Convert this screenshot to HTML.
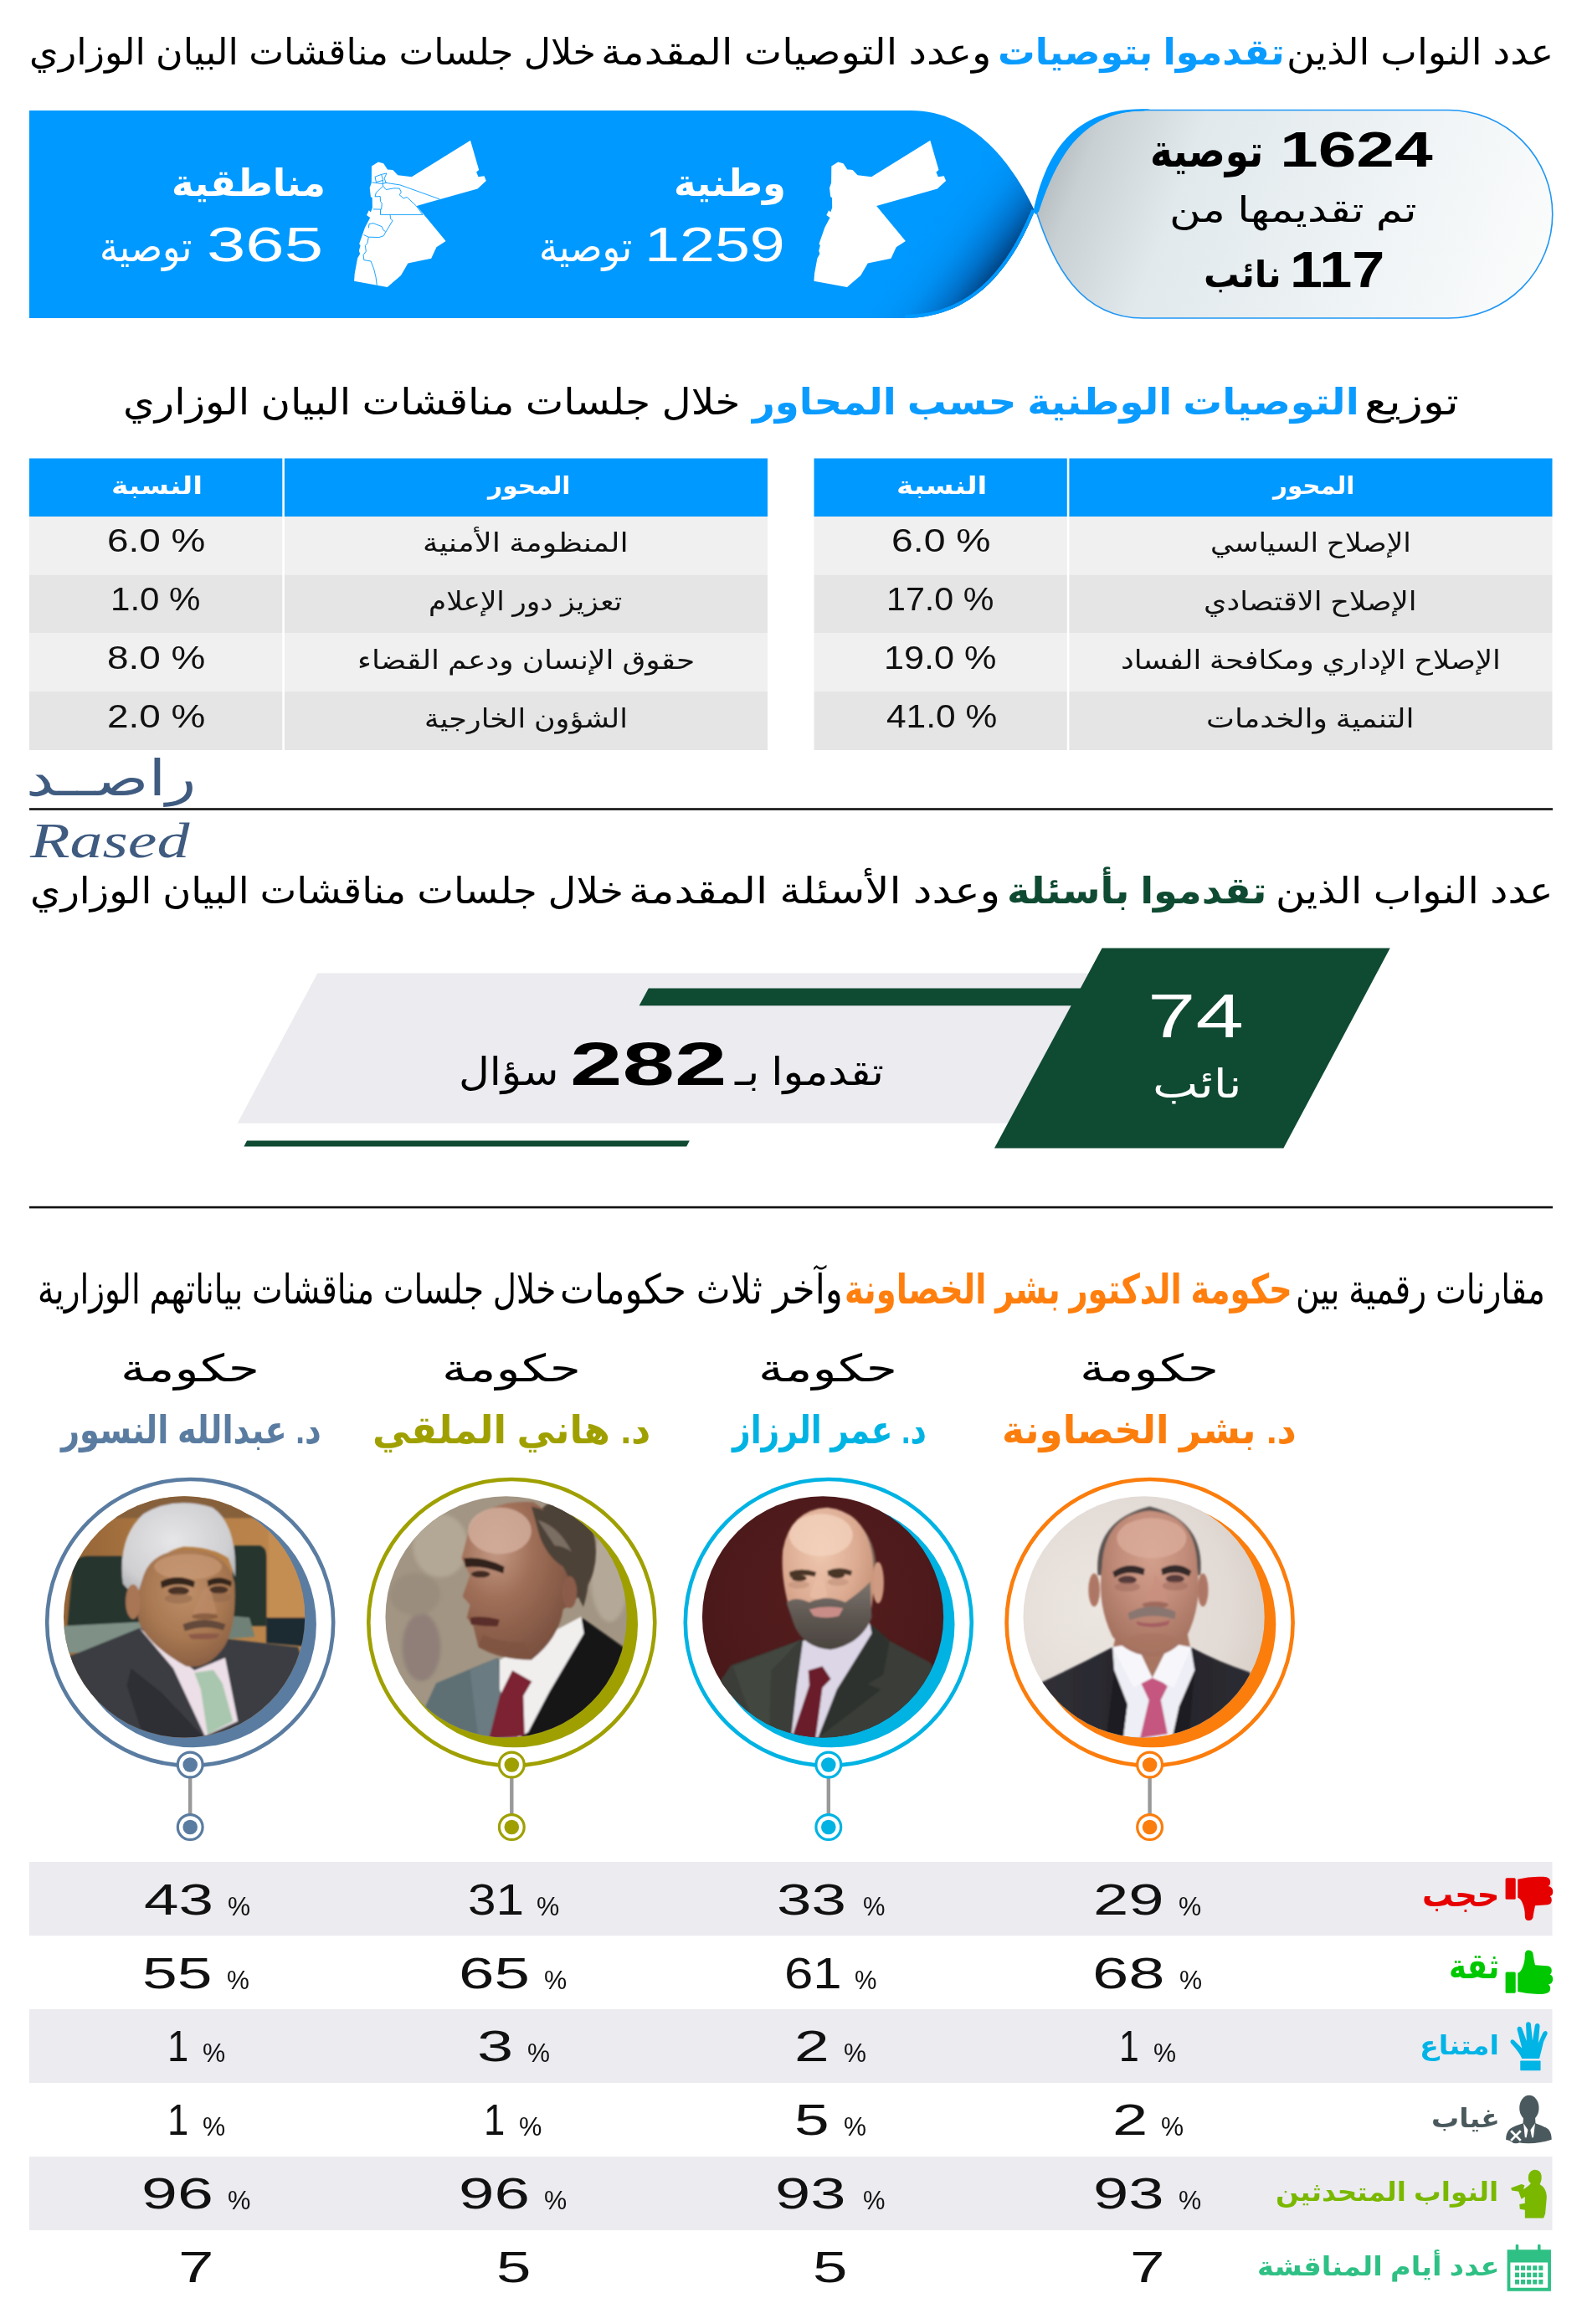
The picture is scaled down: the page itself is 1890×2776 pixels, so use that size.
<!DOCTYPE html>
<html lang="ar">
<head>
<meta charset="utf-8">
<title>راصد - مناقشات البيان الوزاري</title>
<style>
html,body{margin:0;padding:0;background:#fff;}
#pg{position:relative;width:1890px;height:2776px;overflow:hidden;background:#fff;font-family:"Liberation Sans","DejaVu Sans",sans-serif;}
#pg svg.bg{position:absolute;left:0;top:0;}
.t{position:absolute;white-space:nowrap;line-height:1;transform-origin:0 0;margin:0;padding:0;}
.s{font-family:"Liberation Serif","DejaVu Serif",serif;}
</style>
</head>
<body>
<div id="pg">
<svg class="bg" width="1890" height="2776" viewBox="0 0 1890 2776">
<defs>
<linearGradient id="pillg" gradientUnits="userSpaceOnUse" x1="1245" y1="150" x2="1850" y2="380">
<stop offset="0" stop-color="#a9b1b4"/><stop offset="0.1" stop-color="#c8d0d3"/><stop offset="0.28" stop-color="#e1e9ec"/><stop offset="0.6" stop-color="#edf2f4"/><stop offset="1" stop-color="#fcfdfd"/>
</linearGradient>
<linearGradient id="darkg" gradientUnits="userSpaceOnUse" x1="1214" y1="320" x2="1118" y2="247">
<stop offset="0" stop-color="#002b5e" stop-opacity="0.95"/><stop offset="0.14" stop-color="#003a75" stop-opacity="0.88"/><stop offset="0.34" stop-color="#0055a4" stop-opacity="0.58"/><stop offset="0.6" stop-color="#0074d0" stop-opacity="0.25"/><stop offset="0.85" stop-color="#008ae8" stop-opacity="0.06"/><stop offset="1" stop-color="#0090f0" stop-opacity="0"/>
</linearGradient>
<clipPath id="banclip"><path d="M35,132 H1088 C1165,132 1212,200 1236,252 C1214,306 1172,380 1080,380 H35 Z"/></clipPath>
<filter id="b1" x="-10%" y="-10%" width="120%" height="120%"><feGaussianBlur stdDeviation="1.6"/></filter>
<filter id="b3" x="-20%" y="-20%" width="140%" height="140%"><feGaussianBlur stdDeviation="4"/></filter>
<filter id="b8" x="-30%" y="-30%" width="160%" height="160%"><feGaussianBlur stdDeviation="9"/></filter>
</defs>
<path d="M35,132 H1088 C1165,132 1212,200 1236,252 C1214,306 1172,380 1080,380 H35 Z" fill="#0099ff"/>
<g clip-path="url(#banclip)"><rect x="1000" y="132" width="260" height="250" fill="url(#darkg)"/><path d="M1237.5,252 C1215.5,306 1173.5,381.5 1081,381.5" fill="none" stroke="#0099ff" stroke-width="11"/></g>
<path d="M1366,131.5 H1730.5 A124.25,124.25 0 0 1 1730.5,380 H1366 C1290,380 1258,315 1238,252.5 C1258,190 1290,131.5 1366,131.5 Z" fill="url(#pillg)" stroke="#1f96f5" stroke-width="1.6"/>
<path d="M1234.5,252.5 C1249,186 1280,126 1374,130.6 L1366,132.5 C1292,132.5 1261,191 1241,253 L1237,256 Z" fill="#0099ff"/>
<path d="M1111.3,167.8 L1121.5,202.9 L1118.4,205.4 L1120.8,211.2 L1127.8,210.2 L1130.1,216.1 L1119.8,225.4 L1047.1,246.0 L1081.9,288.0 L1070.7,295.3 L1064.5,308.8 L1036.7,314.4 L1028.3,329.0 L1012.0,342.9 L972.4,335.7 L973.0,326.9 L976.4,308.6 L979.4,303.3 L978.2,299.5 L979.9,293.3 L978.5,291.2 L985.2,272.1 L991.5,259.9 L987.3,257.1 L990.1,251.3 L992.2,253.6 L994.2,248.1 L994.0,236.2 L992.2,235.1 L991.0,224.4 L993.1,218.2 L993.3,198.4 L1001.2,193.5 L1007.5,195.2 L1012.3,202.6 L1018.6,202.9 L1024.6,209.2 L1041.1,211.2 Z" fill="#fff"/>
<path d="M562.0,167.8 L572.2,202.9 L569.1,205.4 L571.5,211.2 L578.5,210.2 L580.8,216.1 L570.5,225.4 L497.8,246.0 L532.6,288.0 L521.4,295.3 L515.2,308.8 L487.4,314.4 L479.0,329.0 L462.7,342.9 L423.1,335.7 L423.7,326.9 L427.1,308.6 L430.1,303.3 L428.9,299.5 L430.6,293.3 L429.2,291.2 L435.9,272.1 L442.2,259.9 L438.0,257.1 L440.8,251.3 L442.9,253.6 L444.9,248.1 L444.7,236.2 L442.9,235.1 L441.7,224.4 L443.8,218.2 L444.0,198.4 L451.9,193.5 L458.2,195.2 L463.0,202.6 L469.3,202.9 L475.3,209.2 L491.8,211.2 Z" fill="#fff"/>
<path d="M459.8,218.2 L477.9,220.9 L525.2,237.9" fill="none" stroke="#0099ff" stroke-width="0.9" stroke-linejoin="round"/>
<path d="M448.0,211.2 L455.6,208.4 L457.7,215.4 L449.4,217.5 L448.0,211.2" fill="none" stroke="#0099ff" stroke-width="0.9" stroke-linejoin="round"/>
<path d="M455.6,208.4 L461.9,207.0 L459.1,213.3 L461.2,218.2 L457.7,219.5 L457.0,215.4" fill="none" stroke="#0099ff" stroke-width="0.9" stroke-linejoin="round"/>
<path d="M444.5,217.9 L457.0,219.5 L457.7,222.3 L449.4,230.0 L448.0,234.8 L454.2,234.6 L454.5,240.4 L456.3,243.2 L455.6,250.1 L445.9,249.9" fill="none" stroke="#0099ff" stroke-width="0.9" stroke-linejoin="round"/>
<path d="M457.7,222.3 L461.2,226.5 L470.9,224.8 L477.2,225.1 L479.3,229.3 L477.2,232.8 L482.1,236.9 L486.2,235.5 L497.4,246.0 L505.0,256.4" fill="none" stroke="#0099ff" stroke-width="0.9" stroke-linejoin="round"/>
<path d="M454.5,250.1 L454.5,256.4 L505.0,256.4" fill="none" stroke="#0099ff" stroke-width="0.9" stroke-linejoin="round"/>
<path d="M466.1,256.4 L466.5,261.3 L469.1,263.4 L458.1,281.8 L452.9,283.5 L440.3,283.2 L434.5,280.5" fill="none" stroke="#0099ff" stroke-width="0.9" stroke-linejoin="round"/>
<path d="M440.3,272.4 L441.0,267.5 L445.9,266.6 L456.3,270.7 L457.7,274.5 L460.5,276.6" fill="none" stroke="#0099ff" stroke-width="0.9" stroke-linejoin="round"/>
<path d="M440.3,283.2 L438.9,290.5 L436.4,293.3 L437.3,300.2 L434.1,304.4 L434.8,310.6 L443.1,312.0 L446.6,321.1 L449.0,330.8 L450.3,340.8" fill="none" stroke="#0099ff" stroke-width="0.9" stroke-linejoin="round"/>
<rect x="35" y="547.5" width="882" height="69.5" fill="#0099ff"/>
<rect x="35" y="617" width="882" height="69.5" fill="#f0f0f0"/>
<rect x="35" y="686.5" width="882" height="69.5" fill="#e5e5e5"/>
<rect x="35" y="756" width="882" height="70" fill="#f0f0f0"/>
<rect x="35" y="826" width="882" height="70" fill="#e5e5e5"/>
<rect x="337.3" y="547" width="2.6" height="349.5" fill="#fff"/>
<rect x="972.5" y="547.5" width="882" height="69.5" fill="#0099ff"/>
<rect x="972.5" y="617" width="882" height="69.5" fill="#f0f0f0"/>
<rect x="972.5" y="686.5" width="882" height="69.5" fill="#e5e5e5"/>
<rect x="972.5" y="756" width="882" height="70" fill="#f0f0f0"/>
<rect x="972.5" y="826" width="882" height="70" fill="#e5e5e5"/>
<rect x="1274.8" y="547" width="2.6" height="349.5" fill="#fff"/>
<rect x="35" y="965.2" width="1820" height="2.6" fill="#111"/>
<rect x="35" y="1440.8" width="1820" height="2.6" fill="#111"/>
<path d="M379.3,1162.5 L1400,1162.5 L1400,1341.7 L283.7,1341.7 Z" fill="#ebebf0"/>
<path d="M774.8,1180.4 L1350,1180.4 L1350,1201.3 L763.6,1201.3 Z" fill="#0f4a32"/>
<path d="M1316.6,1132.6 L1660.7,1132.6 L1533.4,1371.6 L1188,1371.6 Z" fill="#0f4a32"/>
<path d="M295,1362.6 L823.8,1362.6 L820.2,1369.4 L291.4,1369.4 Z" fill="#0f4a32"/>
<rect x="35" y="2224" width="1819.5" height="88" fill="#ebebf0"/>
<rect x="35" y="2400" width="1819.5" height="88" fill="#ebebf0"/>
<rect x="35" y="2576" width="1819.5" height="88" fill="#ebebf0"/>
<circle cx="1373.6" cy="1938" r="171" fill="none" stroke="#fb7d0c" stroke-width="4.6"/>
<circle cx="1377.3" cy="1940.2" r="147" fill="#fb7d0c"/>
<line x1="1373.6" y1="2122" x2="1373.6" y2="2168" stroke="#999" stroke-width="4.4"/>
<circle cx="1373.6" cy="2108" r="14.9" fill="#fff" stroke="#fb7d0c" stroke-width="3.2"/>
<circle cx="1373.6" cy="2108" r="8.8" fill="#fb7d0c"/>
<circle cx="1373.6" cy="2182.5" r="14.9" fill="#fff" stroke="#fb7d0c" stroke-width="3.2"/>
<circle cx="1373.6" cy="2182.5" r="8.8" fill="#fb7d0c"/>
<circle cx="989.8" cy="1938" r="171" fill="none" stroke="#00b3e3" stroke-width="4.6"/>
<circle cx="993.5" cy="1940.2" r="147" fill="#00b3e3"/>
<line x1="989.8" y1="2122" x2="989.8" y2="2168" stroke="#999" stroke-width="4.4"/>
<circle cx="989.8" cy="2108" r="14.9" fill="#fff" stroke="#00b3e3" stroke-width="3.2"/>
<circle cx="989.8" cy="2108" r="8.8" fill="#00b3e3"/>
<circle cx="989.8" cy="2182.5" r="14.9" fill="#fff" stroke="#00b3e3" stroke-width="3.2"/>
<circle cx="989.8" cy="2182.5" r="8.8" fill="#00b3e3"/>
<circle cx="611.3" cy="1938" r="171" fill="none" stroke="#9fa000" stroke-width="4.6"/>
<circle cx="615.0" cy="1940.2" r="147" fill="#9fa000"/>
<line x1="611.3" y1="2122" x2="611.3" y2="2168" stroke="#999" stroke-width="4.4"/>
<circle cx="611.3" cy="2108" r="14.9" fill="#fff" stroke="#9fa000" stroke-width="3.2"/>
<circle cx="611.3" cy="2108" r="8.8" fill="#9fa000"/>
<circle cx="611.3" cy="2182.5" r="14.9" fill="#fff" stroke="#9fa000" stroke-width="3.2"/>
<circle cx="611.3" cy="2182.5" r="8.8" fill="#9fa000"/>
<circle cx="227.2" cy="1938" r="171" fill="none" stroke="#5a7ca1" stroke-width="4.6"/>
<circle cx="230.89999999999998" cy="1940.2" r="147" fill="#5a7ca1"/>
<line x1="227.2" y1="2122" x2="227.2" y2="2168" stroke="#999" stroke-width="4.4"/>
<circle cx="227.2" cy="2108" r="14.9" fill="#fff" stroke="#5a7ca1" stroke-width="3.2"/>
<circle cx="227.2" cy="2108" r="8.8" fill="#5a7ca1"/>
<circle cx="227.2" cy="2182.5" r="14.9" fill="#fff" stroke="#5a7ca1" stroke-width="3.2"/>
<circle cx="227.2" cy="2182.5" r="8.8" fill="#5a7ca1"/>
<defs>
<radialGradient id="kbg" cx=".32" cy=".45" r=".8"><stop offset="0" stop-color="#ece6e1"/><stop offset=".6" stop-color="#e2dad4"/><stop offset="1" stop-color="#cfc5be"/></radialGradient>
<radialGradient id="kface" cx=".52" cy=".32" r=".75"><stop offset="0" stop-color="#d3a08d"/><stop offset=".45" stop-color="#c28d7a"/><stop offset="1" stop-color="#9e6b5a"/></radialGradient>
<linearGradient id="ksuit" x1="0" y1="0" x2="1" y2="0"><stop offset="0" stop-color="#34333a"/><stop offset=".5" stop-color="#25242a"/><stop offset="1" stop-color="#2e2d33"/></linearGradient>
<radialGradient id="rbg" cx=".5" cy=".4" r=".8"><stop offset="0" stop-color="#551d1e"/><stop offset="1" stop-color="#451617"/></radialGradient>
<radialGradient id="rface" cx=".42" cy=".3" r=".8"><stop offset="0" stop-color="#efc8b0"/><stop offset=".5" stop-color="#dcab92"/><stop offset="1" stop-color="#b98468"/></radialGradient>
<linearGradient id="rbeard" x1="0" y1="0" x2="0" y2="1"><stop offset="0" stop-color="#7d756f"/><stop offset=".5" stop-color="#5f5852"/><stop offset="1" stop-color="#4a443f"/></linearGradient>
<radialGradient id="mface" cx=".3" cy=".3" r=".9"><stop offset="0" stop-color="#c49a85"/><stop offset=".35" stop-color="#a06f58"/><stop offset="1" stop-color="#6c4636"/></radialGradient>
<radialGradient id="nface" cx=".5" cy=".35" r=".8"><stop offset="0" stop-color="#be8f69"/><stop offset=".5" stop-color="#a87852"/><stop offset="1" stop-color="#7a523a"/></radialGradient>
<radialGradient id="nhair" cx=".45" cy=".4" r=".7"><stop offset="0" stop-color="#e6e6e8"/><stop offset=".7" stop-color="#cfcfd2"/><stop offset="1" stop-color="#a9a9ad"/></radialGradient>
<linearGradient id="nwood" x1="0" y1="0" x2="1" y2="0"><stop offset="0" stop-color="#8f6034"/><stop offset=".5" stop-color="#b27c45"/><stop offset="1" stop-color="#c08a50"/></linearGradient>
</defs>
<clipPath id="pc4"><circle cx="738" cy="757" r="570"/></clipPath>
<g transform="translate(1180,1740) scale(0.25284)"><g clip-path="url(#pc4)">
<rect x="100" y="150" width="1300" height="1250" fill="url(#kbg)"/>
<g filter="url(#b3)">
<path d="M225,1080 Q420,990 590,900 L960,900 Q1100,975 1238,1018 L1350,1420 L150,1420 Z" fill="url(#ksuit)"/>
<path d="M590,900 L960,900 L978,1010 L905,1180 L872,1330 L640,1330 L660,1170 L598,1010 Z" fill="#eeeef6"/>
<path d="M598,1010 L660,1170 L640,1330 L560,1330 Z" fill="#1c1b20"/><path d="M978,1010 L905,1180 L872,1330 L950,1330 Z" fill="#1c1b20"/>
<path d="M722,1065 L790,1035 L850,1085 L818,1150 L850,1310 L720,1330 L762,1150 Z" fill="#c4577f"/>
<path d="M612,820 L940,820 L958,905 L778,1042 L592,905 Z" fill="#a77461"/>
<path d="M590,900 L700,880 L778,1045 L690,1090 Z" fill="#f7f7fb"/><path d="M960,900 L860,880 L778,1045 L880,1090 Z" fill="#f7f7fb"/>
<path d="M520,560 Q500,300 765,235 Q1030,300 1005,560 Z" fill="#5b5553"/>
<ellipse cx="503" cy="630" rx="27" ry="78" fill="#ae7765"/><ellipse cx="1017" cy="630" rx="25" ry="78" fill="#ae7765"/>
<path d="M765,255 Q985,270 990,520 Q1015,700 940,850 Q860,945 770,940 Q670,940 590,850 Q515,700 540,520 Q550,275 765,255 Z" fill="url(#kface)"/>
<ellipse cx="775" cy="385" rx="165" ry="95" fill="#dcae9c" opacity=".75"/>
<path d="M590,545 Q660,492 742,530 L737,560 Q660,532 600,572 Z" fill="#35292a"/>
<path d="M820,530 Q900,490 962,540 L952,566 Q890,532 825,560 Z" fill="#35292a"/>
<ellipse cx="660" cy="582" rx="44" ry="19" fill="#4a3233" opacity=".9"/><ellipse cx="885" cy="577" rx="44" ry="19" fill="#4a3233" opacity=".9"/>
<ellipse cx="660" cy="615" rx="60" ry="22" fill="#a06c5e" opacity=".55"/><ellipse cx="885" cy="610" rx="60" ry="22" fill="#a06c5e" opacity=".55"/>
<path d="M735,690 Q790,720 850,688 L840,640 Q800,560 790,560 Q770,640 735,690 Z" fill="#c9907f" opacity=".8"/>
<ellipse cx="792" cy="700" rx="62" ry="16" fill="#8f5b50" opacity=".7"/>
<path d="M662,740 Q775,678 888,734 L884,768 Q775,735 672,772 Z" fill="#8a7670"/>
<path d="M700,778 Q780,798 862,772 L850,796 Q780,815 710,796 Z" fill="#a45e62"/>
<ellipse cx="775" cy="870" rx="110" ry="35" fill="#a8735f" opacity=".6"/>
</g></g></g>
<clipPath id="pc3"><circle cx="724" cy="757" r="570"/></clipPath>
<g transform="translate(800,1740) scale(0.25284)"><g clip-path="url(#pc3)">
<rect x="100" y="150" width="1300" height="1250" fill="url(#rbg)"/>
<g filter="url(#b3)">
<path d="M225,1080 L290,985 L620,865 L950,790 L1040,870 L1235,975 L1350,1420 L150,1420 Z" fill="#3a3e37"/>
<path d="M620,865 L480,1010 L470,1330 L420,1330 L300,990 Z" fill="#42463f"/>
<path d="M950,790 L1040,870 L1010,1030 L935,1075 L1000,1100 L700,1330 L790,1100 Z" fill="#2f332d"/>
<path d="M630,870 L945,785 L955,835 L790,1100 L700,1330 L575,1320 L600,1090 Z" fill="#dcd6e6"/>
<path d="M655,1010 L722,990 L762,1050 L722,1092 L690,1330 L580,1320 L660,1080 Z" fill="#6b1d2b"/>
<path d="M905,330 Q990,420 975,600 L900,600 Z" fill="#75645a"/>
<ellipse cx="985" cy="595" rx="27" ry="98" fill="#cf9a82"/>
<path d="M745,240 Q930,260 960,480 Q975,650 940,780 Q860,900 760,905 Q650,900 590,790 Q520,600 535,440 Q570,250 745,240 Z" fill="url(#rface)"/>
<ellipse cx="715" cy="370" rx="150" ry="100" fill="#f3d2bd" opacity=".8"/>
<path d="M552,690 Q590,655 660,688 Q740,648 830,688 Q900,640 948,590 L955,760 Q905,885 760,912 Q635,902 590,800 Z" fill="url(#rbeard)"/>
<path d="M660,722 Q740,700 820,716 L800,752 Q740,768 680,752 Z" fill="#c98d88"/>
<path d="M565,545 Q620,520 692,545 L687,567 Q620,550 570,572 Z" fill="#4a3528"/>
<path d="M745,540 Q800,515 862,540 L857,562 Q800,545 750,564 Z" fill="#4a3528"/>
<ellipse cx="612" cy="574" rx="35" ry="15" fill="#4a3528"/><ellipse cx="792" cy="560" rx="35" ry="15" fill="#4a3528"/>
<ellipse cx="610" cy="605" rx="50" ry="18" fill="#c08f78" opacity=".6"/><ellipse cx="795" cy="592" rx="50" ry="18" fill="#c08f78" opacity=".6"/>
<path d="M660,660 Q700,690 745,655 L720,560 Q690,560 660,660 Z" fill="#e9bda5" opacity=".8"/>
</g></g></g>
<clipPath id="pc2"><circle cx="730" cy="757" r="570"/></clipPath>
<g transform="translate(420,1740) scale(0.25284)"><g clip-path="url(#pc2)">
<rect x="100" y="150" width="1300" height="1250" fill="#a29583"/>
<g filter="url(#b8)"><ellipse cx="330" cy="900" rx="90" ry="160" fill="#8f7f78"/><ellipse cx="1220" cy="560" rx="90" ry="220" fill="#b4a898"/><ellipse cx="420" cy="420" rx="130" ry="150" fill="#b3a795"/><ellipse cx="300" cy="650" rx="120" ry="100" fill="#9a8d7d"/></g>
<g filter="url(#b3)">
<path d="M335,1210 L400,1070 L690,950 L730,1000 L720,1340 L540,1340 Z" fill="#5f6f75"/>
<path d="M560,1010 L690,950 L720,1340 L600,1340 Z" fill="#6b7b82"/>
<path d="M1088,760 L1285,900 L1310,1150 L860,1340 L800,1340 L900,1100 Z" fill="#141414"/>
<path d="M700,960 L1085,755 L1098,835 L935,1110 L835,1300 L790,1330 L700,1100 Z" fill="#f1eeee"/>
<path d="M760,1010 L852,1062 L812,1130 L818,1320 L650,1330 L700,1130 Z" fill="#7b2233"/>
<ellipse cx="990" cy="450" rx="165" ry="245" fill="#4e4339"/>
<path d="M560,330 Q650,200 860,215 Q1000,300 1010,520 L1060,560 Q1075,640 1040,700 L1000,720 Q980,860 850,960 Q700,960 600,900 L575,800 L545,760 L560,700 L525,660 L560,560 L520,480 Z" fill="url(#mface)"/>
<ellipse cx="700" cy="350" rx="150" ry="110" fill="#d2ad9b" opacity=".85"/>
<path d="M850,235 Q1010,270 1095,420 Q1145,560 1095,710 Q1040,600 1000,520 Q930,480 890,380 Z" fill="#4e4339"/>
<path d="M880,300 Q980,330 1040,450 Q1000,420 960,420 Q920,360 880,300 Z" fill="#7a6d62"/>
<ellipse cx="1030" cy="640" rx="35" ry="75" fill="#8b5c48"/>
<path d="M530,480 Q620,468 722,520 L717,552 Q620,512 540,522 Z" fill="#33231c"/>
<ellipse cx="610" cy="555" rx="45" ry="16" fill="#3f2a22"/>
<path d="M560,760 Q620,750 700,770 L690,802 Q620,802 565,792 Z" fill="#5a2e2a"/>
<path d="M600,900 Q720,930 850,960 L820,880 Q700,880 620,840 Z" fill="#7d5342" opacity=".7"/>
</g></g></g>
<clipPath id="pc1"><circle cx="752" cy="757" r="570"/></clipPath>
<g transform="translate(30,1740) scale(0.25284)"><g clip-path="url(#pc1)">
<rect x="100" y="150" width="1300" height="1250" fill="url(#nwood)"/>
<g filter="url(#b3)">
<rect x="100" y="150" width="1300" height="140" fill="#86603a"/>
<rect x="1150" y="300" width="220" height="480" fill="#c48e52"/>
<path d="M225,520 Q240,470 300,470 L540,470 L540,800 L200,800 Z" fill="#26342d"/>
<path d="M980,420 L1110,420 Q1140,430 1140,470 L1140,800 L980,800 Z" fill="#26342d"/>
<path d="M180,800 L560,780 L560,900 L190,930 Z" fill="#7f9187"/>
<path d="M960,750 L1060,760 L1085,850 L960,860 Z" fill="#6f8177"/>
<path d="M1140,760 L1370,760 L1370,900 L1140,880 Z" fill="#1f2a30"/>
<path d="M205,945 L540,810 L950,860 L1290,900 L1350,1100 L1010,1340 L380,1340 Z" fill="#3b3c42"/>
<path d="M500,1000 L640,1110 L850,1330 L560,1330 L480,1080 Z" fill="#2e2f35"/>
<path d="M540,810 L800,1010 L945,950 L1005,1250 L850,1320 L700,1000 Z" fill="#ecdfe7"/>
<path d="M800,1020 L890,1008 L932,1070 L982,1250 L862,1312 L830,1100 Z" fill="#a9c7ae"/>
<path d="M462,600 Q435,380 560,270 Q700,185 885,240 Q1005,320 992,570 L960,480 Q880,425 750,425 Q640,450 600,530 L578,665 Q515,665 462,600 Z" fill="url(#nhair)"/>
<path d="M560,560 Q600,440 780,440 Q960,450 990,600 Q1000,800 940,900 Q860,1010 760,990 Q600,900 545,800 Q520,740 535,640 Z" fill="url(#nface)"/>
<ellipse cx="770" cy="520" rx="160" ry="60" fill="#c99a76" opacity=".7"/>
<ellipse cx="510" cy="685" rx="35" ry="82" fill="#a87555"/>
<path d="M640,590 Q720,550 802,590 L797,618 Q720,586 645,622 Z" fill="#36261f"/>
<path d="M860,585 Q920,555 977,590 L972,615 Q920,586 865,614 Z" fill="#36261f"/>
<ellipse cx="725" cy="634" rx="50" ry="20" fill="#4a3026"/><ellipse cx="915" cy="629" rx="44" ry="18" fill="#4a3026"/>
<ellipse cx="725" cy="670" rx="65" ry="24" fill="#946a4c" opacity=".6"/><ellipse cx="915" cy="665" rx="58" ry="22" fill="#946a4c" opacity=".6"/>
<path d="M790,740 Q850,775 905,735 L880,640 Q850,600 830,640 Z" fill="#bb8a66" opacity=".85"/>
<ellipse cx="850" cy="755" rx="62" ry="15" fill="#7a5138" opacity=".7"/>
<path d="M745,792 Q850,750 947,792 L937,820 Q850,792 755,824 Z" fill="#63493b"/>
<path d="M770,840 Q850,830 920,838 L905,858 Q850,866 785,860 Z" fill="#8d5a4a"/>
</g></g></g>
<g transform="translate(1480,2210) scale(0.25284)"><rect x="1260" y="132" width="48" height="100" rx="6" fill="#e60000"/>
<path d="M1318,137 Q1380,122 1440,126 Q1472,128 1472,150 Q1472,166 1462,170 Q1484,174 1484,196 Q1484,214 1470,218 Q1480,224 1478,240 Q1476,256 1458,258 L1400,262 Q1392,300 1390,318 Q1384,334 1366,332 Q1352,330 1352,310 Q1352,275 1338,245 Q1330,228 1318,224 Z" fill="#e60000"/></g>
<g transform="translate(1480,2210) scale(0.25284)"><rect x="1260" y="575" width="48" height="100" rx="6" fill="#00c800"/>
<path d="M1318,668 Q1380,683 1440,679 Q1472,677 1472,655 Q1472,639 1462,635 Q1484,631 1484,609 Q1484,591 1470,587 Q1480,581 1478,565 Q1476,549 1458,547 L1400,543 Q1392,505 1390,487 Q1384,471 1366,473 Q1352,475 1352,495 Q1352,530 1338,560 Q1330,577 1318,581 Z" fill="#00c800"/></g>
<g transform="translate(1480,2210) scale(0.25284)"><rect x="1330" y="995" width="96" height="46" rx="3" fill="#00b4e6"/>
<path d="M1338,985 L1420,985 Q1432,940 1440,905 L1458,868 Q1460,856 1450,854 Q1441,853 1436,864 L1415,912 L1422,832 Q1422,820 1411,819 Q1401,819 1399,830 L1388,900 L1380,824 Q1379,812 1368,812 Q1357,812 1357,824 L1360,902 L1338,842 Q1333,831 1323,834 Q1313,838 1316,850 L1338,935 L1300,898 Q1291,892 1285,899 Q1280,906 1287,914 Q1325,955 1338,985 Z" fill="#00b4e6"/></g>
<g transform="translate(1480,2480) scale(0.25284)"><ellipse cx="1372" cy="150" rx="46" ry="60" fill="#4a595d"/>
<path d="M1345,190 L1400,190 L1402,222 Q1440,235 1462,250 Q1478,268 1478,300 Q1370,335 1262,300 Q1262,268 1280,250 Q1300,235 1343,222 Z" fill="#4a595d"/>
<path d="M1345,222 L1372,262 L1400,222 L1392,290 L1352,290 Z" fill="#fff"/>
<path d="M1364,232 L1380,232 L1377,250 L1385,290 L1372,300 L1359,290 L1367,250 Z" fill="#4a595d"/>
<circle cx="1309" cy="281" r="36" fill="#4a595d"/>
<path d="M1286,258 L1332,304 M1332,258 L1286,304" stroke="#fff" stroke-width="11" stroke-linecap="butt"/></g>
<g transform="translate(1480,2480) scale(0.25284)"><path d="M1368,478 Q1368,450 1395,442 Q1425,440 1430,470 Q1432,495 1422,510 Q1455,530 1455,570 L1448,650 L1440,670 L1352,670 L1352,632 L1328,628 L1326,605 L1352,600 L1352,570 L1335,580 L1322,545 L1290,540 L1286,528 L1335,510 L1350,515 L1345,535 L1372,515 L1380,505 Q1366,500 1368,478 Z" fill="#7ab800"/></g>
<g transform="translate(1480,2480) scale(0.25284)"><path d="M1268,820 H1475 V1015 H1268 Z M1283,880 V1000 H1460 V880 Z" fill="#2ec084" fill-rule="evenodd"/><rect x="1308" y="795" width="14" height="35" rx="4" fill="#2ec084"/><rect x="1412" y="795" width="14" height="35" rx="4" fill="#2ec084"/><rect x="1305" y="895" width="20" height="22" fill="#2ec084"/><rect x="1333" y="895" width="20" height="22" fill="#2ec084"/><rect x="1361" y="895" width="20" height="22" fill="#2ec084"/><rect x="1389" y="895" width="20" height="22" fill="#2ec084"/><rect x="1417" y="895" width="20" height="22" fill="#2ec084"/><rect x="1305" y="928" width="20" height="22" fill="#2ec084"/><rect x="1333" y="928" width="20" height="22" fill="#2ec084"/><rect x="1361" y="928" width="20" height="22" fill="#2ec084"/><rect x="1389" y="928" width="20" height="22" fill="#2ec084"/><rect x="1417" y="928" width="20" height="22" fill="#2ec084"/><rect x="1305" y="961" width="20" height="22" fill="#2ec084"/><rect x="1333" y="961" width="20" height="22" fill="#2ec084"/><rect x="1361" y="961" width="20" height="22" fill="#2ec084"/><rect x="1389" y="961" width="20" height="22" fill="#2ec084"/><rect x="1417" y="961" width="20" height="22" fill="#2ec084"/></g>
</svg>
<div class="t" style="left:1536.77px;top:41.10px;font-size:43px;color:#000;transform:scale(1.0774,1.000);">عدد النواب الذين</div>
<div class="t" style="left:1191.63px;top:41.10px;font-size:43px;color:#0a9bff;transform:scale(1.0341,1.000);font-weight:bold;">تقدموا بتوصيات</div>
<div class="t" style="left:718.13px;top:41.10px;font-size:43px;color:#000;transform:scale(1.1220,1.000);">وعدد التوصيات المقدمة</div>
<div class="t" style="left:35.13px;top:41.10px;font-size:43px;color:#000;transform:scale(1.0325,1.000);">خلال جلسات مناقشات البيان الوزاري</div>
<div class="t" style="left:205.00px;top:196.00px;font-size:45px;color:#fff;transform:scale(1.0017,1.000);font-weight:bold;">مناطقية</div>
<div class="t" style="left:247.48px;top:263.90px;font-size:57px;color:#fff;transform:scale(1.4617,1.000);">365</div>
<div class="t" style="left:118.97px;top:270.50px;font-size:49px;color:#fff;transform:scale(0.9087,1.000);">توصية</div>
<div class="t" style="left:804.51px;top:196.00px;font-size:45px;color:#fff;transform:scale(0.9968,1.000);font-weight:bold;">وطنية</div>
<div class="t" style="left:769.51px;top:263.90px;font-size:57px;color:#fff;transform:scale(1.3230,1.000);">1259</div>
<div class="t" style="left:644.26px;top:270.50px;font-size:49px;color:#fff;transform:scale(0.9147,1.000);">توصية</div>
<div class="t" style="left:1529.39px;top:149.40px;font-size:60px;color:#000;transform:scale(1.3691,1.000);font-weight:bold;">1624</div>
<div class="t" style="left:1374.48px;top:153.00px;font-size:54px;color:#000;transform:scale(0.8396,1.000);font-weight:bold;">توصية</div>
<div class="t" style="left:1397.31px;top:229.50px;font-size:42px;color:#000;transform:scale(1.2285,1.000);">تم تقديمها من</div>
<div class="t" style="left:1541.05px;top:291.70px;font-size:61px;color:#000;transform:scale(1.1499,1.000);font-weight:bold;">117</div>
<div class="t" style="left:1437.67px;top:305.50px;font-size:44px;color:#000;transform:scale(0.9645,1.000);font-weight:bold;">نائب</div>
<div class="t" style="left:1629.55px;top:457.50px;font-size:44px;color:#000;transform:scale(1.2263,1.000);">توزيع</div>
<div class="t" style="left:898.62px;top:457.50px;font-size:44px;color:#0a9bff;transform:scale(1.0604,1.000);font-weight:bold;">التوصيات الوطنية حسب المحاور</div>
<div class="t" style="left:147.10px;top:457.50px;font-size:44px;color:#000;transform:scale(1.0990,1.000);">خلال جلسات مناقشات البيان الوزاري</div>
<div class="t" style="left:1520.53px;top:565.50px;font-size:29px;color:#fff;transform:scale(1.0134,1.000);font-weight:bold;">المحور</div>
<div class="t" style="left:1070.82px;top:565.50px;font-size:29px;color:#fff;transform:scale(1.1820,1.000);font-weight:bold;">النسبة</div>
<div class="t" style="left:582.65px;top:565.50px;font-size:29px;color:#fff;transform:scale(1.0259,1.000);font-weight:bold;">المحور</div>
<div class="t" style="left:133.21px;top:565.50px;font-size:29px;color:#fff;transform:scale(1.1910,1.000);font-weight:bold;">النسبة</div>
<div class="t" style="left:1445.69px;top:633.00px;font-size:31px;color:#111;transform:scale(1.1104,1.000);">الإصلاح السياسي</div>
<div class="t" style="left:1438.47px;top:702.70px;font-size:31px;color:#111;transform:scale(1.1331,1.000);">الإصلاح الاقتصادي</div>
<div class="t" style="left:1339.36px;top:772.60px;font-size:31px;color:#111;transform:scale(1.1372,1.000);">الإصلاح الإداري ومكافحة الفساد</div>
<div class="t" style="left:1441.44px;top:842.60px;font-size:31px;color:#111;transform:scale(1.1627,1.000);">التنمية والخدمات</div>
<div class="t" style="left:505.42px;top:633.00px;font-size:31px;color:#111;transform:scale(1.1878,1.000);">المنظومة الأمنية</div>
<div class="t" style="left:511.50px;top:702.70px;font-size:31px;color:#111;transform:scale(1.1016,1.000);">تعزيز دور الإعلام</div>
<div class="t" style="left:426.68px;top:772.60px;font-size:31px;color:#111;transform:scale(1.1584,1.000);">حقوق الإنسان ودعم القضاء</div>
<div class="t" style="left:506.75px;top:842.60px;font-size:31px;color:#111;transform:scale(1.1261,1.000);">الشؤون الخارجية</div>
<div class="t" style="left:1065.11px;top:626.00px;font-size:39px;color:#111;transform:scale(1.1882,1.000);">6.0 %</div>
<div class="t" style="left:1059.39px;top:695.70px;font-size:39px;color:#111;transform:scale(1.0569,1.000);">17.0 %</div>
<div class="t" style="left:1056.29px;top:765.60px;font-size:39px;color:#111;transform:scale(1.1075,1.000);">19.0 %</div>
<div class="t" style="left:1058.50px;top:835.60px;font-size:39px;color:#111;transform:scale(1.0891,1.000);">41.0 %</div>
<div class="t" style="left:128.42px;top:626.00px;font-size:39px;color:#111;transform:scale(1.1769,1.000);">6.0 %</div>
<div class="t" style="left:132.24px;top:695.70px;font-size:39px;color:#111;transform:scale(1.0778,1.000);">1.0 %</div>
<div class="t" style="left:128.42px;top:765.60px;font-size:39px;color:#111;transform:scale(1.1769,1.000);">8.0 %</div>
<div class="t" style="left:128.42px;top:835.60px;font-size:39px;color:#111;transform:scale(1.1769,1.000);">2.0 %</div>
<div class="t" style="left:31.20px;top:901.00px;font-size:59px;color:#3f5b80;transform:scale(1.2660,1.000);">راصــد</div>
<div class="t s" style="left:36.30px;top:974.30px;font-size:60px;color:#3f5b80;transform:scale(1.2985,1.000);font-style:italic;">Rased</div>
<div class="t" style="left:1524.12px;top:1042.20px;font-size:44px;color:#000;transform:scale(1.0936,1.000);">عدد النواب الذين</div>
<div class="t" style="left:1203.39px;top:1042.20px;font-size:44px;color:#0f4a32;transform:scale(1.0530,1.000);font-weight:bold;">تقدموا بأسئلة</div>
<div class="t" style="left:751.03px;top:1042.20px;font-size:44px;color:#000;transform:scale(1.1571,1.000);">وعدد الأسئلة المقدمة</div>
<div class="t" style="left:35.89px;top:1042.20px;font-size:44px;color:#000;transform:scale(1.0565,1.000);">خلال جلسات مناقشات البيان الوزاري</div>
<div class="t" style="left:1370.82px;top:1176.50px;font-size:74px;color:#fff;transform:scale(1.3946,1.000);">74</div>
<div class="t" style="left:1376.84px;top:1270.60px;font-size:47px;color:#fff;transform:scale(1.2303,1.000);">نائب</div>
<div class="t" style="left:878.41px;top:1257.00px;font-size:46px;color:#000;transform:scale(1.1098,1.000);">تقدموا بـ</div>
<div class="t" style="left:680.92px;top:1233.70px;font-size:73px;color:#000;transform:scale(1.5393,1.000);font-weight:bold;">282</div>
<div class="t" style="left:547.50px;top:1256.70px;font-size:46px;color:#000;transform:scale(1.1004,1.000);">سؤال</div>
<div class="t" style="left:1548.01px;top:1515.50px;font-size:49px;color:#000;transform:scale(0.7970,1.000);">مقارنات رقمية بين</div>
<div class="t" style="left:1009.24px;top:1515.50px;font-size:49px;color:#ff7f0e;transform:scale(0.7855,1.000);font-weight:bold;">حكومة الدكتور بشر الخصاونة</div>
<div class="t" style="left:668.94px;top:1515.50px;font-size:49px;color:#000;transform:scale(0.8871,1.000);">وآخر ثلاث حكومات</div>
<div class="t" style="left:45.32px;top:1515.50px;font-size:49px;color:#000;transform:scale(0.7935,1.000);">خلال جلسات مناقشات بياناتهم الوزارية</div>
<div class="t" style="left:144.29px;top:1612.00px;font-size:45px;color:#000;transform:scale(1.3353,1.000);">حكومة</div>
<div class="t" style="left:527.79px;top:1612.00px;font-size:45px;color:#000;transform:scale(1.3353,1.000);">حكومة</div>
<div class="t" style="left:906.49px;top:1612.00px;font-size:45px;color:#000;transform:scale(1.3353,1.000);">حكومة</div>
<div class="t" style="left:1289.99px;top:1612.00px;font-size:45px;color:#000;transform:scale(1.3353,1.000);">حكومة</div>
<div class="t" style="left:1197.03px;top:1684.70px;font-size:46px;color:#fb7d0c;transform:scale(0.9851,1.000);font-weight:bold;">د. بشر الخصاونة</div>
<div class="t" style="left:875.04px;top:1684.70px;font-size:46px;color:#00b3e3;transform:scale(0.8183,1.000);font-weight:bold;">د. عمر الرزاز</div>
<div class="t" style="left:444.83px;top:1684.70px;font-size:46px;color:#9fa000;transform:scale(0.9856,1.000);font-weight:bold;">د. هاني الملقي</div>
<div class="t" style="left:73.37px;top:1684.70px;font-size:46px;color:#5a7ca1;transform:scale(0.8342,1.000);font-weight:bold;">د. عبدالله النسور</div>
<div class="t" style="left:1699.15px;top:2243.00px;font-size:40px;color:#e60000;transform:scale(0.9246,1.000);font-weight:bold;">حجب</div>
<div class="t" style="left:1731.11px;top:2328.00px;font-size:42px;color:#00c800;transform:scale(0.8426,1.000);font-weight:bold;">ثقة</div>
<div class="t" style="left:1695.84px;top:2427.50px;font-size:31px;color:#00b4e6;transform:scale(1.0792,1.000);font-weight:bold;">امتناع</div>
<div class="t" style="left:1709.53px;top:2515.20px;font-size:31px;color:#4a595d;transform:scale(1.0675,1.000);font-weight:bold;">غياب</div>
<div class="t" style="left:1524.45px;top:2603.20px;font-size:31px;color:#7ab800;transform:scale(1.0529,1.000);font-weight:bold;">النواب المتحدثين</div>
<div class="t" style="left:1501.83px;top:2691.70px;font-size:31px;color:#2ec084;transform:scale(1.0851,1.000);font-weight:bold;">عدد أيام المناقشة</div>
<div class="t" style="left:171.77px;top:2242.60px;font-size:52px;color:#111;transform:scale(1.4348,1.000);">43</div>
<div class="t" style="left:272.05px;top:2260.60px;font-size:32px;color:#111;transform:scale(0.9519,1.000);">%</div>
<div class="t" style="left:170.31px;top:2330.50px;font-size:52px;color:#111;transform:scale(1.4429,1.000);">55</div>
<div class="t" style="left:271.06px;top:2348.50px;font-size:32px;color:#111;transform:scale(0.9444,1.000);">%</div>
<div class="t" style="left:200.38px;top:2418.00px;font-size:52px;color:#111;transform:scale(0.8750,1.000);">1</div>
<div class="t" style="left:242.04px;top:2436.00px;font-size:32px;color:#111;transform:scale(0.9556,1.000);">%</div>
<div class="t" style="left:200.38px;top:2505.80px;font-size:52px;color:#111;transform:scale(0.8750,1.000);">1</div>
<div class="t" style="left:242.04px;top:2523.80px;font-size:32px;color:#111;transform:scale(0.9556,1.000);">%</div>
<div class="t" style="left:169.03px;top:2593.90px;font-size:52px;color:#111;transform:scale(1.4837,1.000);">96</div>
<div class="t" style="left:272.04px;top:2611.90px;font-size:32px;color:#111;transform:scale(0.9630,1.000);">%</div>
<div class="t" style="left:213.06px;top:2681.70px;font-size:52px;color:#111;transform:scale(1.4680,1.000);">7</div>
<div class="t" style="left:559.14px;top:2242.60px;font-size:52px;color:#111;transform:scale(1.1599,1.000);">31</div>
<div class="t" style="left:641.04px;top:2260.60px;font-size:32px;color:#111;transform:scale(0.9593,1.000);">%</div>
<div class="t" style="left:547.86px;top:2330.50px;font-size:52px;color:#111;transform:scale(1.4688,1.000);">65</div>
<div class="t" style="left:650.04px;top:2348.50px;font-size:32px;color:#111;transform:scale(0.9556,1.000);">%</div>
<div class="t" style="left:570.21px;top:2418.00px;font-size:52px;color:#111;transform:scale(1.4923,1.000);">3</div>
<div class="t" style="left:630.45px;top:2436.00px;font-size:32px;color:#111;transform:scale(0.9481,1.000);">%</div>
<div class="t" style="left:577.98px;top:2505.80px;font-size:52px;color:#111;transform:scale(0.8750,1.000);">1</div>
<div class="t" style="left:620.04px;top:2523.80px;font-size:32px;color:#111;transform:scale(0.9630,1.000);">%</div>
<div class="t" style="left:547.86px;top:2593.90px;font-size:52px;color:#111;transform:scale(1.4688,1.000);">96</div>
<div class="t" style="left:650.04px;top:2611.90px;font-size:32px;color:#111;transform:scale(0.9556,1.000);">%</div>
<div class="t" style="left:592.74px;top:2681.70px;font-size:52px;color:#111;transform:scale(1.4320,1.000);">5</div>
<div class="t" style="left:927.57px;top:2242.60px;font-size:52px;color:#111;transform:scale(1.4330,1.000);">33</div>
<div class="t" style="left:1030.67px;top:2260.60px;font-size:32px;color:#111;transform:scale(0.9296,1.000);">%</div>
<div class="t" style="left:936.63px;top:2330.50px;font-size:52px;color:#111;transform:scale(1.1869,1.000);">61</div>
<div class="t" style="left:1020.57px;top:2348.50px;font-size:32px;color:#111;transform:scale(0.9296,1.000);">%</div>
<div class="t" style="left:949.12px;top:2418.00px;font-size:52px;color:#111;transform:scale(1.4400,1.000);">2</div>
<div class="t" style="left:1008.05px;top:2436.00px;font-size:32px;color:#111;transform:scale(0.9481,1.000);">%</div>
<div class="t" style="left:949.12px;top:2505.80px;font-size:52px;color:#111;transform:scale(1.4400,1.000);">5</div>
<div class="t" style="left:1008.05px;top:2523.80px;font-size:32px;color:#111;transform:scale(0.9481,1.000);">%</div>
<div class="t" style="left:926.08px;top:2593.90px;font-size:52px;color:#111;transform:scale(1.4596,1.000);">93</div>
<div class="t" style="left:1030.67px;top:2611.90px;font-size:32px;color:#111;transform:scale(0.9296,1.000);">%</div>
<div class="t" style="left:970.84px;top:2681.70px;font-size:52px;color:#111;transform:scale(1.4320,1.000);">5</div>
<div class="t" style="left:1306.47px;top:2242.60px;font-size:52px;color:#111;transform:scale(1.4633,1.000);">29</div>
<div class="t" style="left:1408.04px;top:2260.60px;font-size:32px;color:#111;transform:scale(0.9556,1.000);">%</div>
<div class="t" style="left:1305.20px;top:2330.50px;font-size:52px;color:#111;transform:scale(1.4985,1.000);">68</div>
<div class="t" style="left:1408.75px;top:2348.50px;font-size:32px;color:#111;transform:scale(0.9519,1.000);">%</div>
<div class="t" style="left:1336.84px;top:2418.00px;font-size:52px;color:#111;transform:scale(0.8208,1.000);">1</div>
<div class="t" style="left:1378.35px;top:2436.00px;font-size:32px;color:#111;transform:scale(0.9519,1.000);">%</div>
<div class="t" style="left:1328.58px;top:2505.80px;font-size:52px;color:#111;transform:scale(1.4600,1.000);">2</div>
<div class="t" style="left:1387.35px;top:2523.80px;font-size:32px;color:#111;transform:scale(0.9519,1.000);">%</div>
<div class="t" style="left:1306.47px;top:2593.90px;font-size:52px;color:#111;transform:scale(1.4633,1.000);">93</div>
<div class="t" style="left:1408.04px;top:2611.90px;font-size:32px;color:#111;transform:scale(0.9556,1.000);">%</div>
<div class="t" style="left:1350.13px;top:2681.70px;font-size:52px;color:#111;transform:scale(1.4360,1.000);">7</div>
</div>
</body>
</html>
